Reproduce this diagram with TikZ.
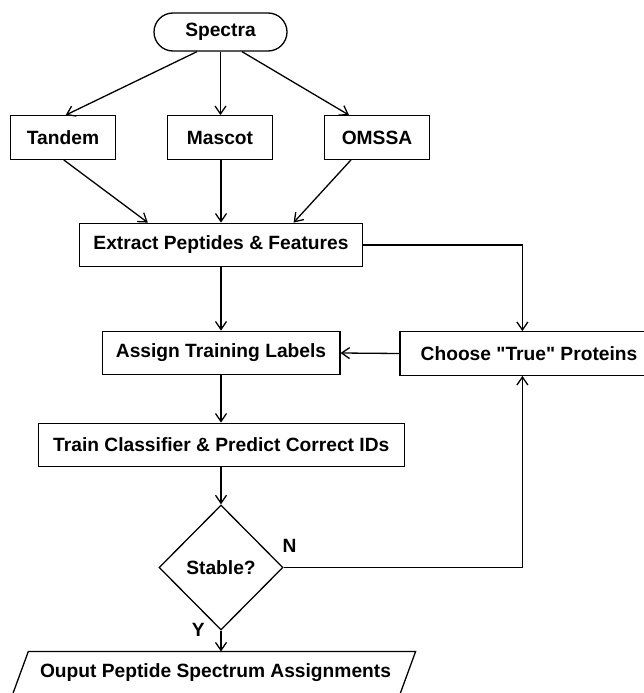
\documentclass[tikz,border=0pt]{standalone}
\usepackage{fontspec}
\setmainfont{Liberation Sans}[Ligatures=TeXOff]
\usetikzlibrary{arrows.meta,shapes.geometric,calc}
\begin{document}
\begin{tikzpicture}[x=1pt,y=-1pt,
  every node/.style={font=\fontsize{19.2}{23}\selectfont\bfseries},
  box/.style={draw, line width=1.3pt, rectangle, inner sep=0pt, minimum height=43.5pt},
  flow/.style={draw, line width=1.3pt, -{Straight Barb[length=8pt,width=11pt,line width=1.3pt]}},
  line/.style={draw, line width=1.3pt}
]
\useasboundingbox (0,0) rectangle (644,693);
\clip (0,0) rectangle (644,693);
\fill[white] (0,0) rectangle (644,693);

\node[box, rounded corners=19pt, minimum width=133pt, minimum height=38pt] (spec) at (220.5,32) {Spectra};
\node[box, minimum width=105.5pt] (tandem) at (63,137.5) {Tandem};
\node[box, minimum width=104.7pt] (mascot) at (220,137.5) {Mascot};
\node[box, minimum width=104.7pt] (omssa) at (377,137.5) {OMSSA};
\node[box, minimum width=283pt] (ext) at (221,245) {Extract Peptides \& Features};
\node[box, minimum width=237.7pt] (assign) at (221,353) {Assign Training Labels};
\node[box, minimum width=258pt] (choose) at (529,353.5) {Choose "True" Proteins};
\node[box, minimum width=366.3pt] (train) at (221.3,445) {Train Classifier \& Predict Correct IDs};
\node[draw, line width=1.3pt, diamond, inner sep=0pt, minimum width=124pt, minimum height=125pt] (dia) at (221,567.5) {Stable?};

% output parallelogram
\coordinate (outtop) at (221,651.5);
\draw[line width=1.3pt] (12.2,695.5) -- (28.3,651.5) -- (415.6,651.5) -- (399.5,695.5) -- cycle;
\node (out) at (215.5,673) {Ouput Peptide Spectrum Assignments};

\node (nlab) at (289.5,546) {N};
\node (ylab) at (198.4,630) {Y};

\draw[flow] ([xshift=-23.5pt]spec.south) -- ([xshift=2.7pt]tandem.north);
\draw[flow] (spec.south) -- (spec.south |- mascot.north);
\draw[flow] ([xshift=21.5pt]spec.south) -- ([xshift=-28pt]omssa.north);

\draw[flow] ([xshift=0.7pt]tandem.south) -- ([xshift=-73.2pt]ext.north);
\draw[flow] (ext.north |- mascot.south) -- (ext.north);
\draw[flow] ([xshift=-26pt]omssa.south) -- ([xshift=72.6pt]ext.north);

\draw[flow] (ext.south) -- (assign.north);
\draw[flow] (ext.east) -| ([xshift=-6.6pt]choose.north);
\draw[flow] (choose.west) -- (assign.east);
\draw[flow] (assign.south) -- (train.north -| assign.south);
\draw[flow] (dia.north |- train.south) -- (dia.north);
\draw[flow] (dia.east) -| ([xshift=-6.6pt]choose.south);
\draw[flow] (dia.south) -- (outtop);
\end{tikzpicture}
\end{document}
